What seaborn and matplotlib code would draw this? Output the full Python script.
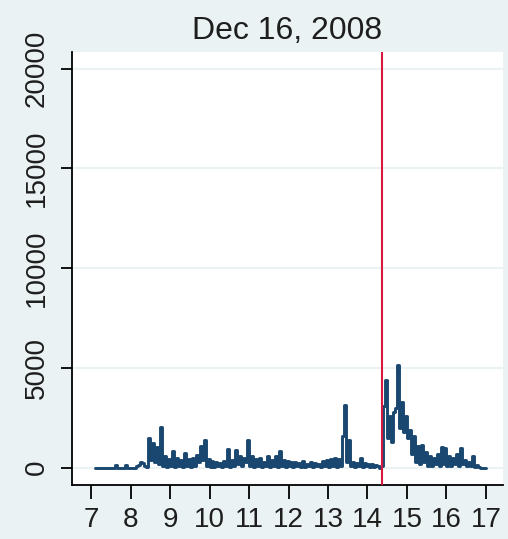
import numpy as np
import pandas as pd
import matplotlib
matplotlib.use("Agg")
import matplotlib.pyplot as plt
import seaborn as sns

# trading volume through the day, sampled every 0.05 hours from 7.10 to 17.00
start_hour = 7.10
step_hour = 0.05
volume = [
    0, 0, 0, 0, 0, 0, 0, 0, 0, 0,                                # 7.10
    150, 0, 0, 0, 0, 120, 0, 0, 0, 0,                            # 7.60
    0, 60, 150, 300, 250, 100, 40, 1500, 400, 1250,              # 8.10
    300, 1050, 200, 2030, 100, 600, 50, 450, 100, 850,           # 8.60
    50, 500, 100, 400, 50, 720, 100, 450, 50, 500,               # 9.10
    100, 650, 300, 1100, 400, 1360, 100, 450, 50, 350,           # 9.60
    50, 300, 100, 250, 50, 350, 100, 950, 50, 400,               # 10.10
    100, 900, 200, 600, 100, 500, 300, 1360, 100, 600,           # 10.60
    50, 450, 100, 500, 50, 300, 100, 600, 50, 400,               # 11.10
    100, 600, 50, 850, 100, 400, 50, 350, 100, 300,              # 11.60
    50, 300, 100, 250, 50, 350, 50, 200, 100, 300,               # 12.10
    50, 250, 100, 200, 50, 350, 100, 400, 50, 450,               # 12.60
    100, 500, 50, 450, 100, 1600, 3150, 300, 1400, 100,          # 13.10
    300, 50, 250, 100, 500, 50, 250, 100, 200, 50,               # 13.60
    200, 50, 150, 100, 0, 100, 3100, 4370, 1500, 2600,           # 14.10
    1300, 2800, 3000, 5150, 2000, 3300, 1800, 2600, 1500, 1900,  # 14.60
    700, 1600, 300, 1100, 200, 1150, 300, 800, 100, 600,         # 15.10
    100, 500, 200, 700, 100, 1020, 200, 1000, 100, 600,          # 15.60
    100, 500, 200, 700, 100, 1000, 200, 400, 100, 300,           # 16.10
    100, 600, 50, 150, 50, 0, 0, 0, 0,                           # 16.60
]
event_hour = 14.37
title = "Dec 16, 2008"
x_ticks = list(range(7, 18))
y_ticks = [0, 5000, 10000, 15000, 20000]

hours = start_hour + step_hour * np.arange(len(volume))
df = pd.DataFrame({"hour": hours, "volume": volume})

sns.set_theme(style="white")
plt.rcParams["font.family"] = ["Liberation Sans", "DejaVu Sans"]

bg = "#eaf2f3"
fig = plt.figure(figsize=(5.08, 5.39), dpi=100, facecolor=bg)
ax = fig.add_axes([0.142, 0.101, 0.848, 0.803])
ax.set_facecolor("white")

for y in y_ticks:
    ax.axhline(y, color=bg, lw=1.5, zorder=0)

sns.lineplot(data=df, x="hour", y="volume", ax=ax, color="#1a476f",
             lw=2.1, drawstyle="steps-post", zorder=2)
ax.axvline(event_hour, color="#d7193f", lw=1.5, zorder=3)

ax.set_xlim(6.52, 17.43)
ax.set_ylim(-850, 20850)
ax.set_xticks(x_ticks)
ax.set_yticks(y_ticks)
ax.set_xlabel("")
ax.set_ylabel("")
ax.set_title(title, fontsize=23, color="#1e1e1e", pad=9)

for s in ["top", "right"]:
    ax.spines[s].set_visible(False)
for s in ["left", "bottom"]:
    ax.spines[s].set_color("black")
    ax.spines[s].set_linewidth(1.3)

ax.tick_params(axis="x", direction="out", length=10, width=1.3, color="black",
               labelsize=20, labelcolor="#1e1e1e", pad=6, bottom=True)
ax.tick_params(axis="y", direction="out", length=8, width=1.3, color="black",
               labelsize=20, labelcolor="#1e1e1e", pad=8, left=True)
for lab in ax.get_yticklabels():
    lab.set_rotation(90)
    lab.set_va("center")

fig.savefig("out.png", dpi=100, facecolor=bg)
